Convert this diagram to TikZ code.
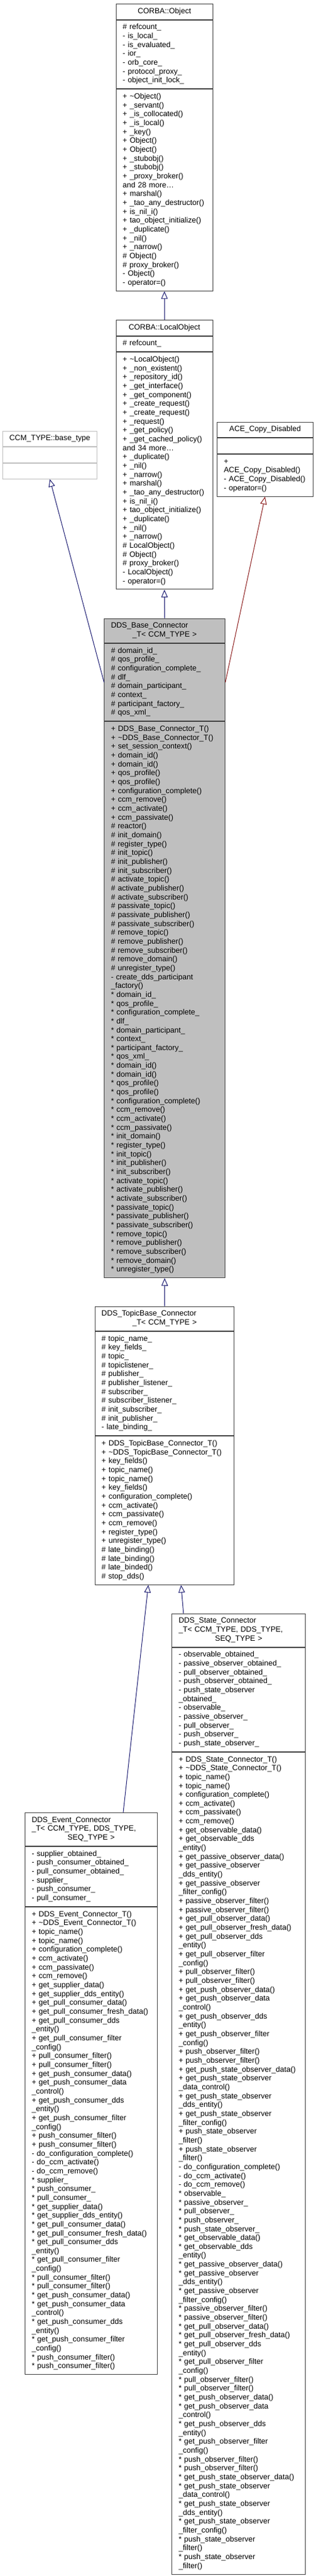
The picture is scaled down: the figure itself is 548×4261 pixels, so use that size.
\documentclass[tikz,border=0pt]{standalone}
\usepackage{fontspec}
\setmainfont{Liberation Sans}
\usetikzlibrary{arrows.meta}
\definecolor{edgeblue}{HTML}{191970}
\definecolor{edgered}{HTML}{8B1A1A}
\definecolor{basegray}{HTML}{BFBFBF}
\definecolor{extgray}{HTML}{BFBFBF}
\tikzset{
  uml/.style={draw=black!75, line width=1pt, inner xsep=11pt, inner ysep=5.5pt,
    font=\fontsize{12.6}{14.66}\selectfont, anchor=north west,
    execute at begin node=\strut, execute at end node=\strut},
  umltitle/.style={uml, align=center},
  umlsec/.style={uml, align=left},
  inh/.style={draw=edgeblue, line width=1pt,
    -{Triangle[open, length=12.5pt, width=10.7pt, fill=white]}},
  inhpriv/.style={inh, draw=edgered},
}
\begin{document}
\begin{tikzpicture}[x=1pt, y=-1pt]
            \useasboundingbox (0,0) rectangle (548,4261);

            % CORBA::Object
            \node[umltitle, text width=138pt] (obj) at (191.7,6) {CORBA::Object};
            \node[umlsec, text width=138pt] (obj-a) at (obj.south west) {\# refcount\_\\- is\_local\_\\- is\_evaluated\_\\- ior\_\\- orb\_core\_\\- protocol\_proxy\_\\- object\_init\_lock\_};
            \node[umlsec, text width=138pt] (obj-m) at (obj-a.south west) {+ \textasciitilde{}Object()\\+ \_servant()\\+ \_is\_collocated()\\+ \_is\_local()\\+ \_key()\\+ Object()\\+ Object()\\+ \_stubobj()\\+ \_stubobj()\\+ \_proxy\_broker()\\and 28 more\dots\\+ marshal()\\+ \_tao\_any\_destructor()\\+ is\_nil\_i()\\+ tao\_object\_initialize()\\+ \_duplicate()\\+ \_nil()\\+ \_narrow()\\\# Object()\\\# proxy\_broker()\\- Object()\\- operator=()};

            % CORBA::LocalObject
            \node[umltitle, text width=138pt] (lobj) at (191.7,529) {CORBA::LocalObject};
            \node[umlsec, text width=138pt] (lobj-a) at (lobj.south west) {\# refcount\_};
            \node[umlsec, text width=138pt] (lobj-m) at (lobj-a.south west) {+ \textasciitilde{}LocalObject()\\+ \_non\_existent()\\+ \_repository\_id()\\+ \_get\_interface()\\+ \_get\_component()\\+ \_create\_request()\\+ \_create\_request()\\+ \_request()\\+ \_get\_policy()\\+ \_get\_cached\_policy()\\and 34 more\dots\\+ \_duplicate()\\+ \_nil()\\+ \_narrow()\\+ marshal()\\+ \_tao\_any\_destructor()\\+ is\_nil\_i()\\+ tao\_object\_initialize()\\+ \_duplicate()\\+ \_nil()\\+ \_narrow()\\\# LocalObject()\\\# Object()\\\# proxy\_broker()\\- LocalObject()\\- operator=()};

            % CCM_TYPE::base_type
            \node[umltitle, draw=extgray, text width=134pt] (ccm) at (4,712.7) {CCM\_TYPE::base\_type};
            \node[umlsec, draw=extgray, text width=134pt] (ccm-a) at (ccm.south west) {};
            \node[umlsec, draw=extgray, text width=134pt] (ccm-m) at (ccm-a.south west) {};

            % ACE_Copy_Disabled
            \node[umltitle, text width=136.7pt] (ace) at (359,697.7) {ACE\_Copy\_Disabled};
            \node[umlsec, text width=136.7pt] (ace-a) at (ace.south west) {};
            \node[umlsec, text width=136.7pt] (ace-m) at (ace-a.south west) {+ ACE\_Copy\_Disabled()\\- ACE\_Copy\_Disabled()\\- operator=()};

            % DDS_Base_Connector_T
            \node[umltitle, fill=basegray, text width=177.7pt] (base) at (172.3,1022.7) {\makebox[\linewidth][l]{DDS\_Base\_Connector}\\\_T< CCM\_TYPE >};
            \node[umlsec, fill=basegray, text width=177.7pt] (base-a) at (base.south west) {\# domain\_id\_\\\# qos\_profile\_\\\# configuration\_complete\_\\\# dlf\_\\\# domain\_participant\_\\\# context\_\\\# participant\_factory\_\\\# qos\_xml\_};
            \node[umlsec, fill=basegray, text width=177.7pt] (base-m) at (base-a.south west) {+ DDS\_Base\_Connector\_T()\\+ \textasciitilde{}DDS\_Base\_Connector\_T()\\+ set\_session\_context()\\+ domain\_id()\\+ domain\_id()\\+ qos\_profile()\\+ qos\_profile()\\+ configuration\_complete()\\+ ccm\_remove()\\+ ccm\_activate()\\+ ccm\_passivate()\\\# reactor()\\\# init\_domain()\\\# register\_type()\\\# init\_topic()\\\# init\_publisher()\\\# init\_subscriber()\\\# activate\_topic()\\\# activate\_publisher()\\\# activate\_subscriber()\\\# passivate\_topic()\\\# passivate\_publisher()\\\# passivate\_subscriber()\\\# remove\_topic()\\\# remove\_publisher()\\\# remove\_subscriber()\\\# remove\_domain()\\\# unregister\_type()\\- create\_dds\_participant\\\_factory()\\{*} domain\_id\_\\{*} qos\_profile\_\\{*} configuration\_complete\_\\{*} dlf\_\\{*} domain\_participant\_\\{*} context\_\\{*} participant\_factory\_\\{*} qos\_xml\_\\{*} domain\_id()\\{*} domain\_id()\\{*} qos\_profile()\\{*} qos\_profile()\\{*} configuration\_complete()\\{*} ccm\_remove()\\{*} ccm\_activate()\\{*} ccm\_passivate()\\{*} init\_domain()\\{*} register\_type()\\{*} init\_topic()\\{*} init\_publisher()\\{*} init\_subscriber()\\{*} activate\_topic()\\{*} activate\_publisher()\\{*} activate\_subscriber()\\{*} passivate\_topic()\\{*} passivate\_publisher()\\{*} passivate\_subscriber()\\{*} remove\_topic()\\{*} remove\_publisher()\\{*} remove\_subscriber()\\{*} remove\_domain()\\{*} unregister\_type()};

            % DDS_TopicBase_Connector_T
            \node[umltitle, text width=208.6pt] (tbase) at (156.7,2160.7) {\makebox[\linewidth][l]{DDS\_TopicBase\_Connector}\\\_T< CCM\_TYPE >};
            \node[umlsec, text width=208.6pt] (tbase-a) at (tbase.south west) {\# topic\_name\_\\\# key\_fields\_\\\# topic\_\\\# topiclistener\_\\\# publisher\_\\\# publisher\_listener\_\\\# subscriber\_\\\# subscriber\_listener\_\\\# init\_subscriber\_\\\# init\_publisher\_\\- late\_binding\_};
            \node[umlsec, text width=208.6pt] (tbase-m) at (tbase-a.south west) {+ DDS\_TopicBase\_Connector\_T()\\+ \textasciitilde{}DDS\_TopicBase\_Connector\_T()\\+ key\_fields()\\+ topic\_name()\\+ topic\_name()\\+ key\_fields()\\+ configuration\_complete()\\+ ccm\_activate()\\+ ccm\_passivate()\\+ ccm\_remove()\\+ register\_type()\\+ unregister\_type()\\\# late\_binding()\\\# late\_binding()\\\# late\_binded()\\\# stop\_dds()};

            % DDS_State_Connector_T
            \node[umltitle, text width=198.7pt] (state) at (284.3,2668.5) {\makebox[\linewidth][l]{DDS\_State\_Connector}\\\makebox[\linewidth][l]{\_T< CCM\_TYPE, DDS\_TYPE,}\\SEQ\_TYPE >};
            \node[umlsec, text width=198.7pt] (state-a) at (state.south west) {- observable\_obtained\_\\- passive\_observer\_obtained\_\\- pull\_observer\_obtained\_\\- push\_observer\_obtained\_\\- push\_state\_observer\\\_obtained\_\\- observable\_\\- passive\_observer\_\\- pull\_observer\_\\- push\_observer\_\\- push\_state\_observer\_};
            \node[umlsec, text width=198.7pt] (state-m) at (state-a.south west) {+ DDS\_State\_Connector\_T()\\+ \textasciitilde{}DDS\_State\_Connector\_T()\\+ topic\_name()\\+ topic\_name()\\+ configuration\_complete()\\+ ccm\_activate()\\+ ccm\_passivate()\\+ ccm\_remove()\\+ get\_observable\_data()\\+ get\_observable\_dds\\\_entity()\\+ get\_passive\_observer\_data()\\+ get\_passive\_observer\\\_dds\_entity()\\+ get\_passive\_observer\\\_filter\_config()\\+ passive\_observer\_filter()\\+ passive\_observer\_filter()\\+ get\_pull\_observer\_data()\\+ get\_pull\_observer\_fresh\_data()\\+ get\_pull\_observer\_dds\\\_entity()\\+ get\_pull\_observer\_filter\\\_config()\\+ pull\_observer\_filter()\\+ pull\_observer\_filter()\\+ get\_push\_observer\_data()\\+ get\_push\_observer\_data\\\_control()\\+ get\_push\_observer\_dds\\\_entity()\\+ get\_push\_observer\_filter\\\_config()\\+ push\_observer\_filter()\\+ push\_observer\_filter()\\+ get\_push\_state\_observer\_data()\\+ get\_push\_state\_observer\\\_data\_control()\\+ get\_push\_state\_observer\\\_dds\_entity()\\+ get\_push\_state\_observer\\\_filter\_config()\\+ push\_state\_observer\\\_filter()\\+ push\_state\_observer\\\_filter()\\- do\_configuration\_complete()\\- do\_ccm\_activate()\\- do\_ccm\_remove()\\{*} observable\_\\{*} passive\_observer\_\\{*} pull\_observer\_\\{*} push\_observer\_\\{*} push\_state\_observer\_\\{*} get\_observable\_data()\\{*} get\_observable\_dds\\\_entity()\\{*} get\_passive\_observer\_data()\\{*} get\_passive\_observer\\\_dds\_entity()\\{*} get\_passive\_observer\\\_filter\_config()\\{*} passive\_observer\_filter()\\{*} passive\_observer\_filter()\\{*} get\_pull\_observer\_data()\\{*} get\_pull\_observer\_fresh\_data()\\{*} get\_pull\_observer\_dds\\\_entity()\\{*} get\_pull\_observer\_filter\\\_config()\\{*} pull\_observer\_filter()\\{*} pull\_observer\_filter()\\{*} get\_push\_observer\_data()\\{*} get\_push\_observer\_data\\\_control()\\{*} get\_push\_observer\_dds\\\_entity()\\{*} get\_push\_observer\_filter\\\_config()\\{*} push\_observer\_filter()\\{*} push\_observer\_filter()\\{*} get\_push\_state\_observer\_data()\\{*} get\_push\_state\_observer\\\_data\_control()\\{*} get\_push\_state\_observer\\\_dds\_entity()\\{*} get\_push\_state\_observer\\\_filter\_config()\\{*} push\_state\_observer\\\_filter()\\{*} push\_state\_observer\\\_filter()};

            % DDS_Event_Connector_T
            \node[umltitle, text width=197pt] (event) at (41,2998) {\makebox[\linewidth][l]{DDS\_Event\_Connector}\\\makebox[\linewidth][l]{\_T< CCM\_TYPE, DDS\_TYPE,}\\SEQ\_TYPE >};
            \node[umlsec, text width=197pt] (event-a) at (event.south west) {- supplier\_obtained\_\\- push\_consumer\_obtained\_\\- pull\_consumer\_obtained\_\\- supplier\_\\- push\_consumer\_\\- pull\_consumer\_};
            \node[umlsec, text width=197pt] (event-m) at (event-a.south west) {+ DDS\_Event\_Connector\_T()\\+ \textasciitilde{}DDS\_Event\_Connector\_T()\\+ topic\_name()\\+ topic\_name()\\+ configuration\_complete()\\+ ccm\_activate()\\+ ccm\_passivate()\\+ ccm\_remove()\\+ get\_supplier\_data()\\+ get\_supplier\_dds\_entity()\\+ get\_pull\_consumer\_data()\\+ get\_pull\_consumer\_fresh\_data()\\+ get\_pull\_consumer\_dds\\\_entity()\\+ get\_pull\_consumer\_filter\\\_config()\\+ pull\_consumer\_filter()\\+ pull\_consumer\_filter()\\+ get\_push\_consumer\_data()\\+ get\_push\_consumer\_data\\\_control()\\+ get\_push\_consumer\_dds\\\_entity()\\+ get\_push\_consumer\_filter\\\_config()\\+ push\_consumer\_filter()\\+ push\_consumer\_filter()\\- do\_configuration\_complete()\\- do\_ccm\_activate()\\- do\_ccm\_remove()\\{*} supplier\_\\{*} push\_consumer\_\\{*} pull\_consumer\_\\{*} get\_supplier\_data()\\{*} get\_supplier\_dds\_entity()\\{*} get\_pull\_consumer\_data()\\{*} get\_pull\_consumer\_fresh\_data()\\{*} get\_pull\_consumer\_dds\\\_entity()\\{*} get\_pull\_consumer\_filter\\\_config()\\{*} pull\_consumer\_filter()\\{*} pull\_consumer\_filter()\\{*} get\_push\_consumer\_data()\\{*} get\_push\_consumer\_data\\\_control()\\{*} get\_push\_consumer\_dds\\\_entity()\\{*} get\_push\_consumer\_filter\\\_config()\\{*} push\_consumer\_filter()\\{*} push\_consumer\_filter()};

            % inheritance
            \draw[inh] (lobj.north) -- (obj-m.south);
            \draw[inh] (base.north) -- (lobj-m.south);
            \draw[inh] (base-a.west) -- (ccm-m.south);
            \draw[inhpriv] (base-a.east) -- (ace-m.south);
            \draw[inh] (tbase.north) -- (base-m.south);
            \draw[inh] ([xshift=53pt]event.north) -- ([xshift=-27pt]tbase-m.south);
            \draw[inh] ([xshift=-91.4pt]state.north) -- ([xshift=27.3pt]tbase-m.south);
\end{tikzpicture}
\end{document}
